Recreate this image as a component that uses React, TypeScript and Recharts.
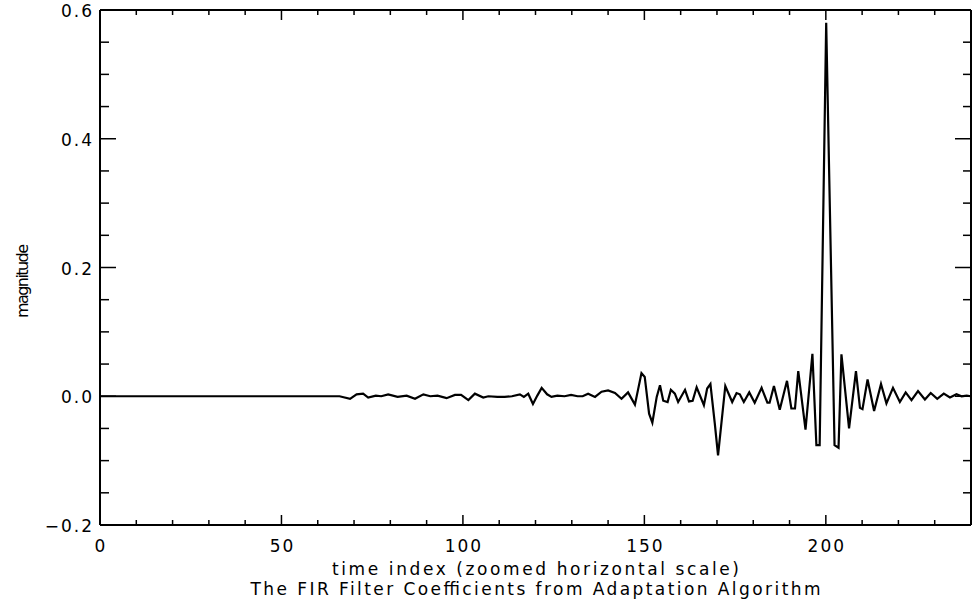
import { LineChart, Line, XAxis, YAxis, Label } from "recharts";

// vertices of the coefficient trace
const timeIndex = [
  0, 66, 68.9, 70.7, 72.5, 73.9, 76, 77.5, 79.4, 82, 84.5, 86.8, 89.1, 91, 93, 95.5, 97.8, 99.5,
  101.5, 103.3, 105.6, 107, 109.5, 111.5, 113.5, 115.7, 116.8, 118, 119.3, 120.5, 121.7, 123.2,
  124.4, 126, 128, 129.8, 131.6, 133, 134.5, 136.4, 138.2, 140, 141.9, 143.7, 145.5, 147.4,
  149.2, 150.1, 151.3, 152.2, 153.4, 154.3, 155.2, 156.4, 157.3, 158.4, 159.3, 161.2, 162.3,
  163.3, 164.4, 166.4, 167.3, 168.2, 169.4, 170.3, 172.3, 174.2, 175.4, 176.3, 177.4, 178.9,
  180.4, 182.3, 183.9, 184.5, 185.7, 187.3, 189.3, 190.5, 191.5, 192.4, 194.4, 196.3, 197.4,
  198.3, 200.1, 202.4, 203.5, 204.3, 206.4, 208.3, 209.4, 210.1, 211.5, 213.3, 215.2, 216.7,
  218.5, 220.4, 222, 223.6, 225.4, 227.3, 228.9, 230.7, 232.5, 234.2, 236, 237.4, 238.8, 240,
];
const magnitude = [
  0, 0, -0.004, 0.003, 0.004, -0.002, 0.001, 0, 0.003, -0.001, 0.001, -0.004, 0.003, 0, 0.001,
  -0.003, 0.002, 0.002, -0.006, 0.004, -0.002, 0, -0.001, -0.001, 0, 0.003, -0.001, 0.004,
  -0.012, 0.001, 0.013, 0.003, -0.001, 0.001, 0, 0.002, 0, 0, 0.004, -0.001, 0.007, 0.009,
  0.005, -0.004, 0.006, -0.013, 0.036, 0.03, -0.027, -0.041, -0.001, 0.017, -0.007, -0.009,
  0.01, 0.004, -0.009, 0.01, -0.008, -0.007, 0.014, -0.014, 0.012, 0.019, -0.042, -0.092,
  0.016, -0.009, 0.005, 0.003, -0.009, 0.006, -0.01, 0.013, -0.01, -0.01, 0.016, -0.021,
  0.024, -0.019, -0.019, 0.039, -0.052, 0.066, -0.076, -0.076, 0.58, -0.076, -0.08, 0.065,
  -0.05, 0.039, -0.018, -0.02, 0.026, -0.023, 0.019, -0.011, 0.013, -0.009, 0.006, -0.006,
  0.008, -0.005, 0.005, -0.004, 0.004, -0.002, 0.003, 0, 0.001, 0,
];

const xTicks = [0, 10, 20, 30, 40, 50, 60, 70, 80, 90, 100, 110, 120, 130, 140, 150, 160, 170, 180, 190, 200, 210, 220, 230];
const xMajor = [0, 50, 100, 150, 200];
const yTicks = [-0.2, -0.15, -0.1, -0.05, 0, 0.05, 0.1, 0.15, 0.2, 0.25, 0.3, 0.35, 0.4, 0.45, 0.5, 0.55, 0.6];
const yMajor = [-0.2, 0, 0.2, 0.4, 0.6];
const yLabels = ["\u22120.2", "0.0", "0.2", "0.4", "0.6"];

const chartData = timeIndex.map((t, i) => ({ t, v: magnitude[i] }));

const font = "'DejaVu Sans', sans-serif";
const ink = "#000";

function isMajorX(v: number) {
  return xMajor.includes(v);
}
function majorY(v: number) {
  return yMajor.findIndex((m) => Math.abs(m - v) < 1e-9);
}

function BottomTick(props: any) {
  const { x, y, payload } = props;
  const major = isMajorX(payload.value);
  return (
    <g>
      <line x1={x} y1={y} x2={x} y2={y - (major ? 10 : 5)} stroke={ink} strokeWidth={1.5} />
      {major && (
        <text x={x + 1} y={y + 21} textAnchor="middle" dominantBaseline="central" fontSize={17} letterSpacing={2} fontFamily={font} fill={ink}>
          {payload.value}
        </text>
      )}
    </g>
  );
}

function TopTick(props: any) {
  const { x, y, payload } = props;
  const major = isMajorX(payload.value);
  return <line x1={x} y1={y} x2={x} y2={y + (major ? 10 : 5)} stroke={ink} strokeWidth={1.5} />;
}

function LeftTick(props: any) {
  const { x, y, payload } = props;
  const idx = majorY(payload.value);
  return (
    <g>
      <line x1={x} y1={y} x2={x + (idx >= 0 ? 16 : 9)} y2={y} stroke={ink} strokeWidth={1.5} />
      {idx >= 0 && (
        <text x={x - 6} y={y + 1} textAnchor="end" dominantBaseline="central" fontSize={17} letterSpacing={2} fontFamily={font} fill={ink}>
          {yLabels[idx]}
        </text>
      )}
    </g>
  );
}

function RightTick(props: any) {
  const { x, y, payload } = props;
  const idx = majorY(payload.value);
  return <line x1={x} y1={y} x2={x - (idx >= 0 ? 16 : 8)} y2={y} stroke={ink} strokeWidth={1.5} />;
}

function BottomCaption(props: any) {
  const vb = props.viewBox || { x: 100, width: 871 };
  const cx = vb.x + vb.width / 2;
  return (
    <g fontFamily={font} fontSize={17} fill={ink}>
      <text x={cx} y={569} textAnchor="middle" dominantBaseline="central" textLength={407} lengthAdjust="spacing">
        time index (zoomed horizontal scale)
      </text>
      <text x={cx} y={589} textAnchor="middle" dominantBaseline="central" textLength={570} lengthAdjust="spacing">
        The FIR Filter Coefficients from Adaptation Algorithm
      </text>
    </g>
  );
}

function SideCaption() {
  return (
    <text
      x={22}
      y={281}
      transform="rotate(-90 22 281)"
      textAnchor="middle"
      dominantBaseline="central"
      fontFamily={font}
      fontSize={16}
      fill={ink}
      textLength={74}
      lengthAdjust="spacing"
    >
      magnitude
    </text>
  );
}

export default function App() {
  return (
    <div style={{ position: "absolute", left: 0, top: 0, width: 975, height: 604, background: "#fff" }}>
      <LineChart width={975} height={604} data={chartData} margin={{ top: 9, right: 3, left: 0, bottom: 0 }}>
        <XAxis
          xAxisId="bottom"
          dataKey="t"
          type="number"
          domain={[0, 240]}
          allowDataOverflow
          ticks={xTicks}
          interval={0}
          height={79}
          tickSize={0}
          tickMargin={0}
          tickLine={false}
          axisLine={{ stroke: ink, strokeWidth: 2 }}
          tick={BottomTick}
        >
          <Label content={BottomCaption} />
        </XAxis>
        <XAxis
          xAxisId="top"
          orientation="top"
          dataKey="t"
          type="number"
          domain={[0, 240]}
          allowDataOverflow
          ticks={xTicks}
          interval={0}
          height={1}
          tickSize={0}
          tickMargin={0}
          tickLine={false}
          axisLine={{ stroke: ink, strokeWidth: 2 }}
          tick={TopTick}
        />
        <YAxis
          yAxisId="left"
          type="number"
          domain={[-0.2, 0.6]}
          allowDataOverflow
          ticks={yTicks}
          interval={0}
          width={100}
          tickSize={0}
          tickMargin={0}
          tickLine={false}
          axisLine={{ stroke: ink, strokeWidth: 2 }}
          tick={LeftTick}
        >
          <Label content={SideCaption} />
        </YAxis>
        <YAxis
          yAxisId="right"
          orientation="right"
          type="number"
          domain={[-0.2, 0.6]}
          allowDataOverflow
          ticks={yTicks}
          interval={0}
          width={1}
          tickSize={0}
          tickMargin={0}
          tickLine={false}
          axisLine={{ stroke: ink, strokeWidth: 2 }}
          tick={RightTick}
        />
        <Line
          xAxisId="bottom"
          yAxisId="left"
          type="linear"
          dataKey="v"
          stroke={ink}
          strokeWidth={2.2}
          dot={false}
          isAnimationActive={false}
        />
      </LineChart>
    </div>
  );
}
